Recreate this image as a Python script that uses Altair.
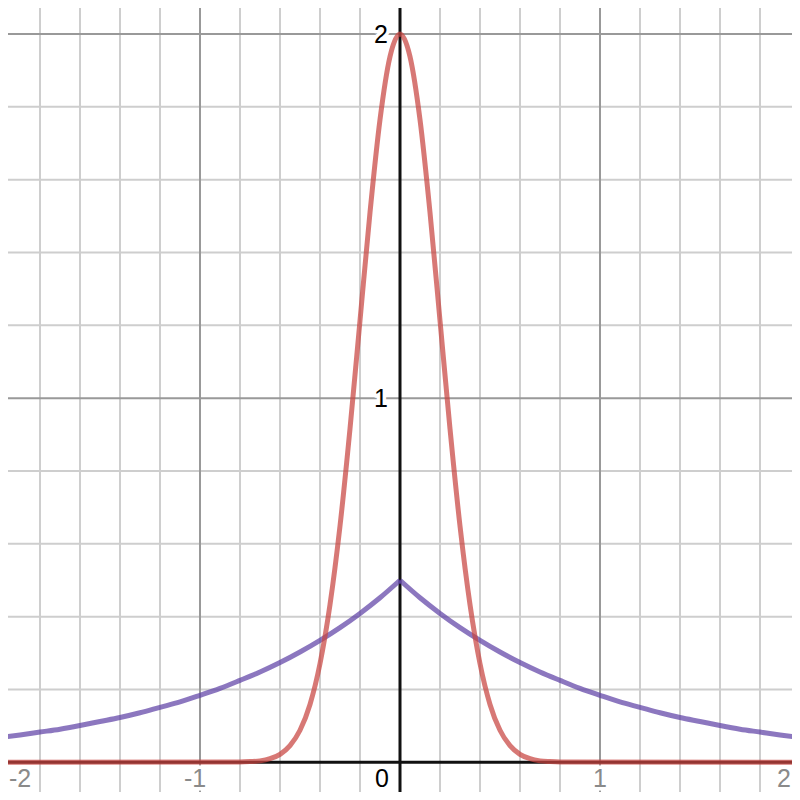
import altair as alt
import pandas as pd

# ---- data ----
gauss_x = [-2.0, -0.8, -0.75, -0.7, -0.65, -0.6, -0.55, -0.5, -0.45, -0.4, -0.35, -0.3,
           -0.25, -0.2, -0.15, -0.1, -0.05, 0.0, 0.05, 0.1, 0.15, 0.2, 0.25, 0.3, 0.35,
           0.4, 0.45, 0.5, 0.55, 0.6, 0.65, 0.7, 0.75, 0.8, 2.0]
gauss_y = [0.0, 0.001, 0.002, 0.004, 0.010, 0.022, 0.046, 0.088, 0.159, 0.271, 0.433, 0.649,
           0.916, 1.213, 1.510, 1.765, 1.938, 2.000, 1.938, 1.765, 1.510, 1.213, 0.916, 0.649, 0.433,
           0.271, 0.159, 0.088, 0.046, 0.022, 0.010, 0.004, 0.002, 0.001, 0.0]

lap_x_right = [0.0, 0.1, 0.2, 0.3, 0.4, 0.5, 0.6, 0.7, 0.8, 0.9, 1.0,
               1.1, 1.2, 1.3, 1.4, 1.5, 1.6, 1.7, 1.8, 1.9, 2.0]
lap_y_right = [0.500, 0.452, 0.409, 0.370, 0.335, 0.303, 0.274, 0.248, 0.225, 0.203, 0.184,
               0.166, 0.151, 0.136, 0.123, 0.112, 0.101, 0.091, 0.083, 0.075, 0.068]
lap_x_left = [-0.0, -0.1, -0.2, -0.3, -0.4, -0.5, -0.6, -0.7, -0.8, -0.9, -1.0,
              -1.1, -1.2, -1.3, -1.4, -1.5, -1.6, -1.7, -1.8, -1.9, -2.0]
lap_y_left = [0.500, 0.452, 0.409, 0.370, 0.335, 0.303, 0.274, 0.248, 0.225, 0.203, 0.184,
              0.166, 0.151, 0.136, 0.123, 0.112, 0.101, 0.091, 0.083, 0.075, 0.068]

minor_x = [-1.8, -1.6, -1.4, -1.2, -0.8, -0.6, -0.4, -0.2, 0.2, 0.4, 0.6, 0.8, 1.2, 1.4, 1.6, 1.8]
major_x = [-2, -1, 1, 2]
minor_y = [0.2, 0.4, 0.6, 0.8, 1.2, 1.4, 1.6, 1.8]
major_y = [1, 2]

xlab_vals = [-2, -1, 1, 2]
xlab_text = ["-2", "-1", "1", "2"]
xlab_kind = ["leftedge", "neg", "pos", "rightedge"]
ylab_vals = [1, 2]
ylab_text = ["1", "2"]

X_DOMAIN = [-2.0, 2.0]
Y_DOMAIN = [-0.1035, 2.0935]

xs = alt.Scale(domain=X_DOMAIN, nice=False, zero=False)
ys = alt.Scale(domain=Y_DOMAIN, nice=False, zero=False)

gauss_df = pd.DataFrame({"x": gauss_x, "y": gauss_y})
lap_df = pd.DataFrame({
    "x": lap_x_left + lap_x_right,
    "y": lap_y_left + lap_y_right,
    "side": ["left"] * len(lap_x_left) + ["right"] * len(lap_x_right),
})
xlab_df = pd.DataFrame({"x": xlab_vals, "label": xlab_text, "kind": xlab_kind})
ylab_df = pd.DataFrame({"y": ylab_vals, "label": ylab_text})
zero_df = pd.DataFrame({"label": ["0"]})

FONT = "Liberation Sans"
FS = 25


def vrules(vals, color, width):
    return alt.Chart(pd.DataFrame({"x": vals})).mark_rule(color=color, strokeWidth=width).encode(
        x=alt.X("x:Q", scale=xs, axis=None))


def hrules(vals, color, width):
    return alt.Chart(pd.DataFrame({"y": vals})).mark_rule(color=color, strokeWidth=width).encode(
        y=alt.Y("y:Q", scale=ys, axis=None))


minor = [vrules(minor_x, "#cecece", 2), hrules(minor_y, "#cecece", 2)]
major = [vrules(major_x, "#999999", 2), hrules(major_y, "#999999", 2)]
axes = [vrules([0], "#111111", 3), hrules([0], "#111111", 3)]


def text_props(halo, color, **kw):
    props = dict(font=FONT, fontSize=FS, baseline="middle", **kw)
    if halo:
        props.update(fill="white", stroke="white", strokeWidth=7, strokeJoin="round")
    else:
        props.update(fill=color)
    return props


def xlabels(kind, align, dx, halo):
    return (alt.Chart(xlab_df)
            .transform_filter(alt.datum.kind == kind)
            .transform_calculate(y0="0")
            .mark_text(**text_props(halo, "#8a8a8a", align=align, dx=dx, dy=16.5))
            .encode(x=alt.X("x:Q", scale=xs, axis=None),
                    y=alt.Y("y0:Q", scale=ys, axis=None),
                    text="label:N"))


def ylabels(halo):
    return (alt.Chart(ylab_df)
            .transform_calculate(x0="0")
            .mark_text(**text_props(halo, "black", align="right", dx=-12, dy=1))
            .encode(x=alt.X("x0:Q", scale=xs, axis=None),
                    y=alt.Y("y:Q", scale=ys, axis=None),
                    text="label:N"))


def zerolabel(halo):
    return (alt.Chart(zero_df)
            .transform_calculate(x0="0", y0="0")
            .mark_text(**text_props(halo, "black", align="right", dx=-11, dy=16.5))
            .encode(x=alt.X("x0:Q", scale=xs, axis=None),
                    y=alt.Y("y0:Q", scale=ys, axis=None),
                    text="label:N"))


label_specs = [("leftedge", "left", 9), ("neg", "center", -5), ("pos", "center", 0), ("rightedge", "right", -9)]
halos = [xlabels(k, a, d, True) for k, a, d in label_specs] + [ylabels(True), zerolabel(True)]
texts = [xlabels(k, a, d, False) for k, a, d in label_specs] + [ylabels(False), zerolabel(False)]

purple = alt.Chart(lap_df).mark_line(color="#6042a6", opacity=0.72, strokeWidth=5,
                                     interpolate="monotone", clip=True).encode(
    x=alt.X("x:Q", scale=xs, axis=None),
    y=alt.Y("y:Q", scale=ys, axis=None),
    detail="side:N",
    order="x:Q",
)

red = alt.Chart(gauss_df).mark_line(color="#c74440", opacity=0.72, strokeWidth=5,
                                    interpolate="monotone", clip=True).encode(
    x=alt.X("x:Q", scale=xs, axis=None),
    y=alt.Y("y:Q", scale=ys, axis=None),
    order="x:Q",
)

chart = alt.layer(*minor, *major, *halos, *texts, *axes, purple, red).properties(
    width=800,
    height=800,
    padding={"left": -8, "top": -8, "right": -8, "bottom": -8},
    autosize="none",
    background="white",
).configure_view(strokeWidth=0)

chart.save("out.html", embed_options={"renderer": "svg", "actions": False})
